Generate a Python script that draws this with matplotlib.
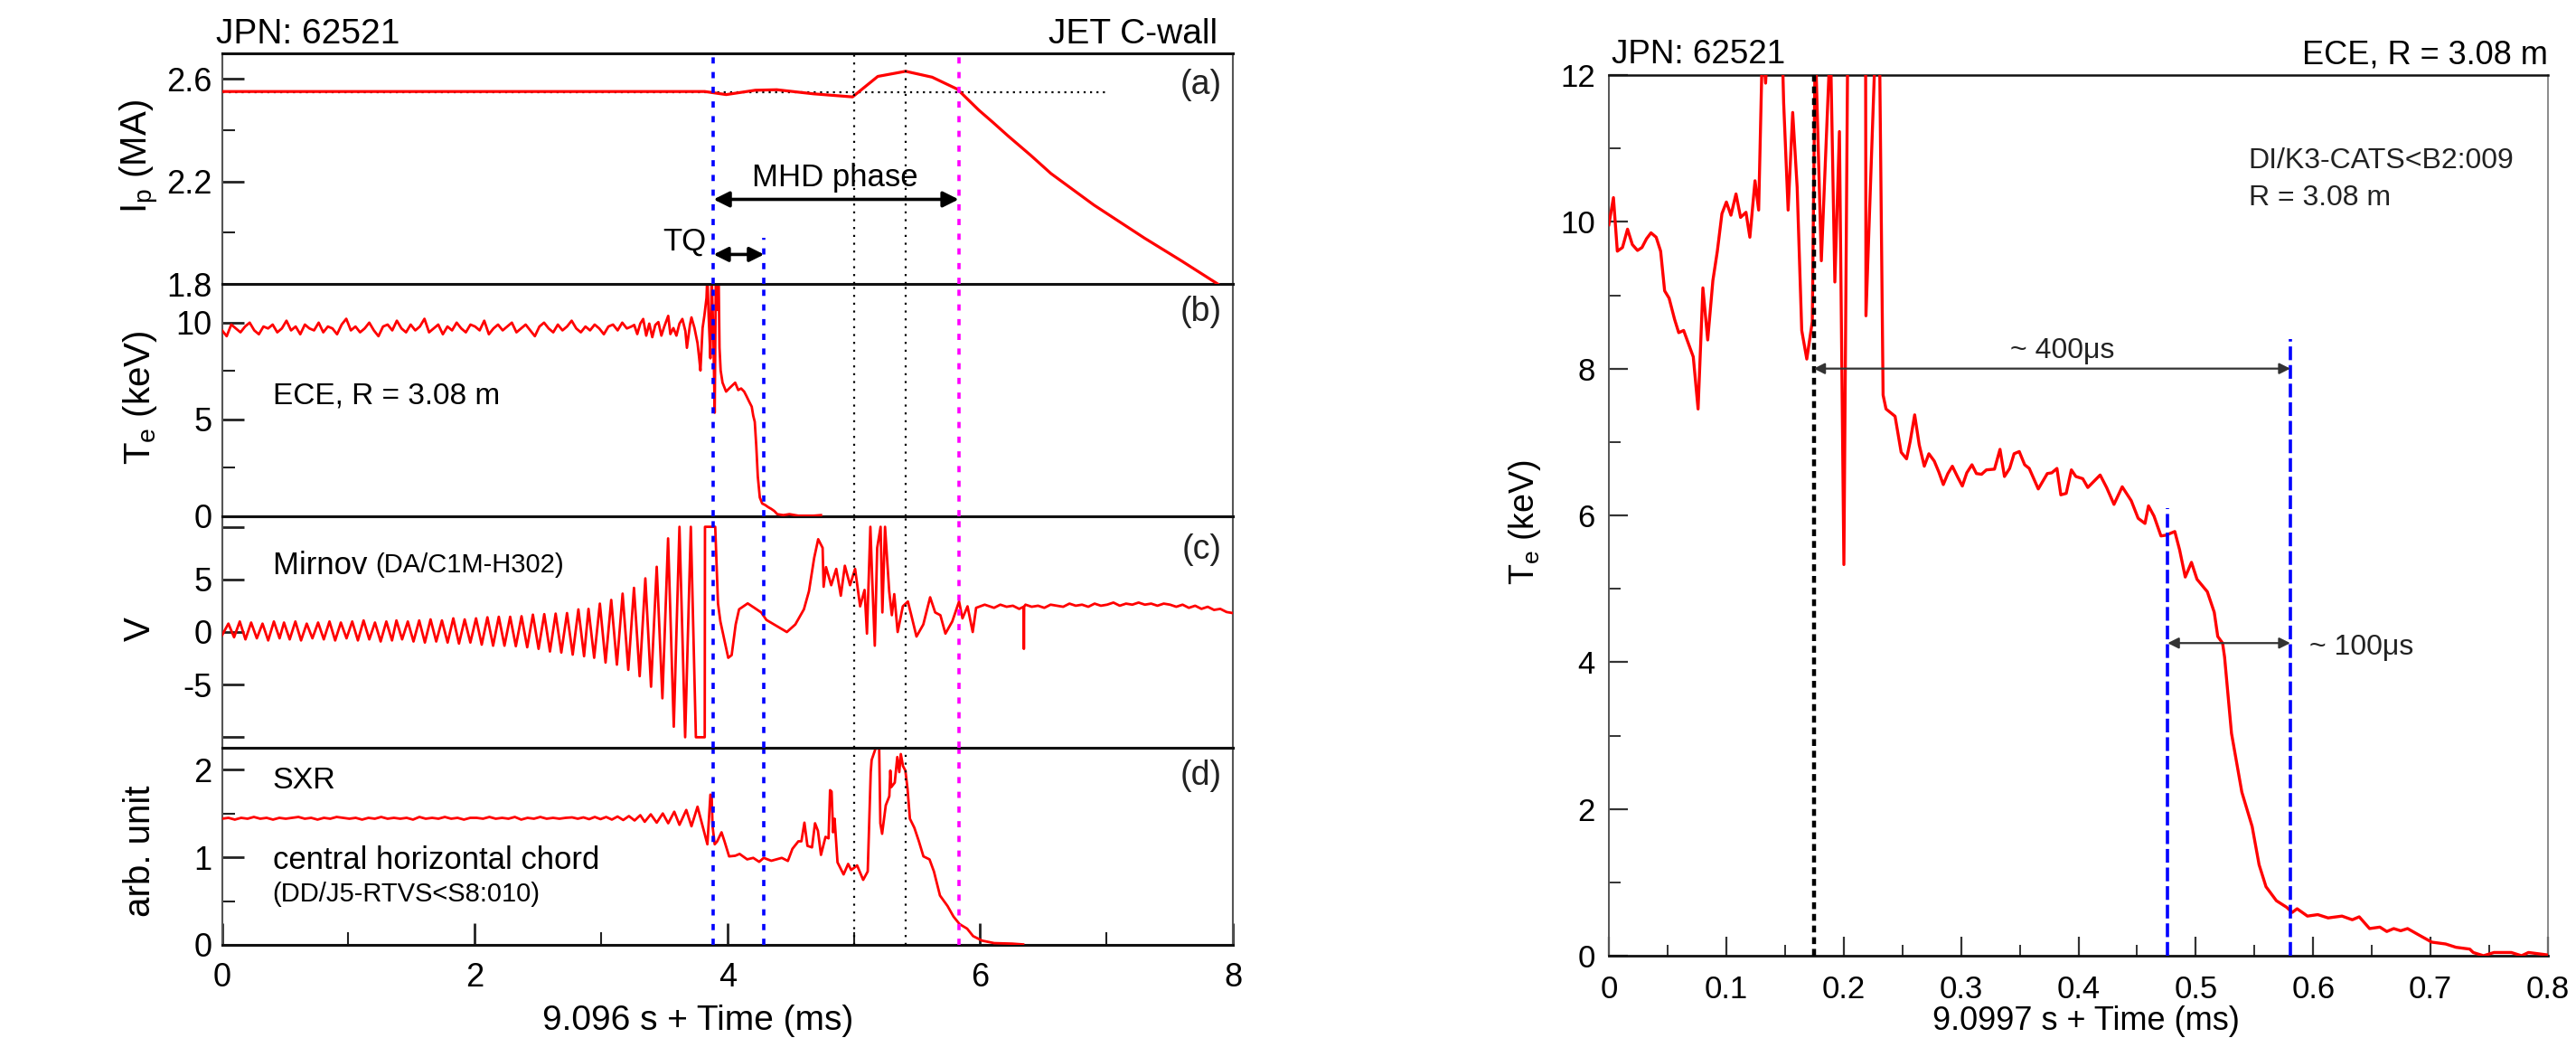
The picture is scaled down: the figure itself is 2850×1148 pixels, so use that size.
import numpy as np
import matplotlib
matplotlib.use('Agg')
import matplotlib.pyplot as plt
from matplotlib.ticker import FixedLocator

plt.rcParams['font.family'] = ['Liberation Sans', 'DejaVu Sans']
plt.rcParams['mathtext.default'] = 'regular'

# ---------------- data: left panel (a) plasma current ----------------
ip_t = [0, 3.82, 3.99, 4.22, 4.39, 4.68, 4.99, 5.19, 5.41, 5.62, 5.82, 5.99, 6.10,
        6.22, 6.40, 6.56, 6.90, 7.30, 7.59, 7.87, 8.0]
ip_v = [2.551, 2.551, 2.539, 2.556, 2.558, 2.542, 2.530, 2.610, 2.630, 2.607, 2.560,
        2.478, 2.431, 2.378, 2.302, 2.231, 2.108, 1.979, 1.891, 1.803, 1.76]
ip_ref_level = 2.55
ip_ref_end = 7.0

# ---------------- data: left panel (b) ECE Te ----------------
te_base_v = [9.6, 9.3, 9.9, 9.7, 9.5, 9.8, 10.0, 9.6, 9.4, 9.8, 9.7, 9.9, 9.5, 9.7, 10.1,
             9.6, 9.8, 9.4, 9.9, 9.7, 9.6, 10.0, 9.5, 9.8, 9.7, 9.4, 9.9, 10.2, 9.6, 9.8,
             9.5, 9.7, 10.0, 9.6, 9.3, 9.8, 9.9, 9.6, 10.1, 9.7, 9.5, 9.9, 9.6, 9.8, 10.2,
             9.5, 9.7, 9.9, 9.4, 9.8, 9.6, 10.0, 9.7, 9.5, 9.9, 9.8, 9.6, 10.1, 9.4, 9.7,
             9.9, 9.6, 9.8, 10.0, 9.5, 9.7, 9.9, 9.6, 9.3, 9.8, 10.0, 9.7, 9.5, 9.9, 9.6,
             9.8, 10.1, 9.7, 9.5, 9.8, 9.6, 9.9, 9.7, 9.4, 9.8, 9.9, 9.6, 10.0, 9.7, 9.8]
te_base_span = (0.0, 3.24)
te_t = [3.262, 3.286, 3.31, 3.333, 3.357, 3.381, 3.405, 3.429, 3.453, 3.477, 3.5, 3.531,
        3.548, 3.572, 3.596, 3.62, 3.643, 3.667, 3.679, 3.703, 3.715, 3.739, 3.763, 3.775,
        3.786, 3.803, 3.817, 3.834, 3.841, 3.851, 3.865, 3.875, 3.889, 3.899, 3.908, 3.918,
        3.93, 3.937, 3.946, 3.961, 3.989, 4.013, 4.037, 4.061, 4.085, 4.108, 4.132, 4.151,
        4.168, 4.192, 4.204, 4.216, 4.228, 4.24, 4.256, 4.275, 4.299, 4.323, 4.347, 4.371,
        4.394, 4.442, 4.49, 4.561, 4.681, 4.74]
te_v = [9.88, 9.41, 9.95, 10.19, 9.33, 9.95, 9.25, 9.88, 10.03, 9.33, 9.8, 10.35,
        9.41, 9.72, 9.33, 9.95, 10.19, 9.56, 8.7, 9.88, 10.27, 9.72, 8.94, 8.24,
        7.53, 9.72, 10.35, 11.28, 12.5, 10.35, 8.16, 12.5, 9.1, 5.35, 12.5, 10.66,
        12.5, 8.7, 7.53, 6.9, 6.44, 6.6, 6.75, 6.9, 6.52, 6.6, 6.44, 6.2,
        5.97, 5.66, 5.19, 4.88, 3.63, 2.06, 0.97, 0.66, 0.58, 0.47, 0.38, 0.27,
        0.11, 0.06, 0.11, 0.03, 0.03, 0.06]

# ---------------- data: left panel (c) Mirnov ----------------
mir_peak_t = [0.05, 0.14, 0.23, 0.32, 0.41, 0.49, 0.58, 0.67, 0.76, 0.85, 0.94, 1.03,
              1.12, 1.21, 1.30, 1.38, 1.47, 1.56, 1.65, 1.74, 1.83, 1.92, 2.01, 2.10,
              2.19, 2.28, 2.37, 2.46, 2.55, 2.64, 2.73, 2.82, 2.90, 2.99, 3.08, 3.17,
              3.26, 3.35, 3.44, 3.53, 3.62, 3.71]
mir_peak_v = [0.8, 1.0, 0.9, 0.8, 1.0, 0.9, 1.0, 0.8, 0.9, 1.0, 0.9, 1.0, 1.1, 0.9, 1.0,
              1.1, 1.0, 1.1, 1.2, 1.1, 1.3, 1.2, 1.3, 1.4, 1.45, 1.45, 1.5, 1.65, 1.7,
              1.75, 1.8, 2.15, 2.2, 2.7, 3.05, 3.65, 4.2, 5.1, 6.2, 8.9, 10, 10]
mir_trough_t = [0.0, 0.095, 0.185, 0.275, 0.365, 0.455, 0.535, 0.625, 0.715, 0.805, 0.895,
                0.985, 1.075, 1.165, 1.255, 1.345, 1.425, 1.515, 1.605, 1.695, 1.785,
                1.875, 1.965, 2.055, 2.145, 2.235, 2.325, 2.415, 2.505, 2.595, 2.685,
                2.775, 2.865, 2.945, 3.035, 3.125, 3.215, 3.305, 3.395, 3.485, 3.575,
                3.665, 3.75, 3.82]
mir_trough_v = [-0.3, -0.5, -0.7, -0.6, -0.8, -0.6, -0.7, -0.8, -0.6, -0.7, -0.8, -0.6,
                -0.8, -0.7, -0.9, -0.8, -0.7, -0.9, -1.0, -0.9, -1.0, -1.1, -1.0, -1.2,
                -1.3, -1.3, -1.35, -1.45, -1.6, -1.85, -1.95, -2.15, -2.3, -2.45, -2.9,
                -3.1, -3.6, -4.2, -5.2, -6.3, -9.0, -10, -10, -10]
mir_post_t = [3.822, 3.903, 3.925, 3.944, 3.97, 4.006, 4.033, 4.065, 4.092, 4.16, 4.213,
              4.267, 4.308, 4.389, 4.47, 4.537, 4.605, 4.645, 4.686, 4.718, 4.753, 4.761,
              4.78, 4.821, 4.861, 4.897, 4.929, 4.97, 5.01, 5.05, 5.085, 5.104, 5.131,
              5.145, 5.166, 5.185, 5.212, 5.226, 5.247, 5.28, 5.301, 5.32, 5.347, 5.388,
              5.428, 5.455, 5.496, 5.55, 5.604, 5.644, 5.685, 5.725, 5.779, 5.833, 5.86,
              5.9, 5.941, 5.968, 6.036, 6.344, 6.346, 6.348]
mir_post_v = [10, 10, 2.72, 1.0, -0.43, -2.45, -2.2, 0.72, 2.16, 2.72, 2.3,
              1.86, 1.15, 0.57, 0.0, 0.72, 2.16, 3.88, 7.03, 8.82, 8.0, 4.3,
              6.17, 4.45, 6.0, 3.45, 6.3, 4.45, 6.0, 2.44, 4.0, -0.15, 10,
              5.2, -1.3, 8.0, 10, 1.86, 10, 3.88, 1.6, 3.6, 0.0, 2.44,
              2.9, 1.6, -0.43, 0.72, 3.3, 1.86, 1.6, -0.15, 1.0, 2.9, 1.3,
              2.44, 0.0, 2.3, 2.6, 2.4, -1.6, 2.4]
mir_tail_v = [2.5, 2.3, 2.6, 2.4, 2.5, 2.2, 2.6, 2.4, 2.5, 2.3, 2.6, 2.5, 2.4, 2.7, 2.5,
              2.6, 2.4, 2.7, 2.5, 2.6, 2.8, 2.5, 2.7, 2.6, 2.8, 2.6, 2.7, 2.5, 2.7, 2.6,
              2.4, 2.6, 2.3, 2.5, 2.2, 2.4, 2.1, 2.2, 1.9, 1.8]
mir_tail_span = (6.06, 8.0)

# ---------------- data: left panel (d) SXR ----------------
sxr_base_v = [1.44, 1.45, 1.43, 1.45, 1.44, 1.46, 1.44, 1.45, 1.43, 1.45, 1.44, 1.45,
              1.46, 1.44, 1.45, 1.43, 1.45, 1.44, 1.46, 1.45, 1.44, 1.45, 1.43, 1.45,
              1.44, 1.46, 1.44, 1.45, 1.44, 1.45, 1.43, 1.46, 1.44, 1.45, 1.44, 1.46,
              1.44, 1.45, 1.43, 1.45, 1.45, 1.44, 1.46, 1.44, 1.45, 1.44, 1.46, 1.43,
              1.45, 1.44, 1.46, 1.44, 1.45, 1.44, 1.45]
sxr_base_span = (0.0, 2.72)
sxr_t = [2.77, 2.815, 2.86, 2.905, 2.95, 2.995, 3.04, 3.085, 3.13, 3.175, 3.22, 3.265,
         3.31, 3.345, 3.393, 3.44, 3.488, 3.531, 3.579, 3.62, 3.674, 3.715, 3.763, 3.81,
         3.841, 3.865, 3.875, 3.882, 3.899, 3.918, 3.953, 3.977, 4.013, 4.061, 4.096,
         4.156, 4.204, 4.251, 4.287, 4.347, 4.43, 4.478, 4.514, 4.561, 4.585, 4.609,
         4.633, 4.669, 4.693, 4.716, 4.74, 4.776, 4.8, 4.812, 4.824, 4.836, 4.848, 4.871,
         4.919, 4.955, 4.979, 5.003, 5.026, 5.074, 5.11, 5.134, 5.141, 5.186, 5.2, 5.21,
         5.224, 5.253, 5.281, 5.289, 5.296, 5.324, 5.344, 5.36, 5.372, 5.389, 5.408,
         5.425, 5.444, 5.479, 5.515, 5.551, 5.599, 5.634, 5.682, 5.742, 5.789, 5.837,
         5.897, 5.944, 6.016, 6.111, 6.254, 6.34]
sxr_v = [1.455, 1.44, 1.455, 1.435, 1.46, 1.435, 1.46, 1.43, 1.465, 1.425, 1.47, 1.42,
         1.48, 1.405, 1.49, 1.395, 1.50, 1.388, 1.52, 1.37, 1.54, 1.354, 1.577, 1.32,
         1.148, 1.715, 1.70, 1.354, 1.148, 1.18, 1.285, 1.18, 1.01, 1.017, 1.038,
         0.976, 0.993, 0.948, 0.993, 0.96, 0.993, 0.958, 1.096, 1.182, 1.182, 1.395,
         1.13, 1.113, 1.388, 1.302, 1.027, 1.233, 1.216, 1.766, 1.75, 1.285, 1.44, 0.942,
         0.804, 0.924, 0.855, 0.88, 0.907, 0.742, 0.838, 1.972, 2.11, 2.3, 2.3, 1.388,
         1.268, 1.594, 1.697, 1.99, 1.8, 1.852, 2.144, 1.972, 2.178, 2.041, 1.99,
         1.783, 1.44, 1.337, 1.182, 1.01, 0.976, 0.838, 0.563, 0.443, 0.323, 0.237,
         0.185, 0.1, 0.048, 0.02, 0.014, 0.005]

# ---------------- event times (left) ----------------
t_blue = [3.89, 4.29]
t_dotted = [5.0, 5.41]
t_magenta = 5.83

# ---------------- data: right panel (zoomed ECE Te) ----------------
rt_t = [0, 0.0039, 0.0072, 0.0116, 0.0159, 0.020, 0.0244, 0.0282, 0.0321, 0.0359, 0.0403,
        0.0441, 0.0475, 0.0513, 0.056, 0.0595, 0.0637, 0.068, 0.0719, 0.076, 0.0801,
        0.0842, 0.0886, 0.0924, 0.0963, 0.1001, 0.104, 0.1083, 0.1122, 0.1168, 0.1201,
        0.1245, 0.1276, 0.1309, 0.1335, 0.1355, 0.1475, 0.1489, 0.1527, 0.1566, 0.1604,
        0.1643, 0.1686, 0.1733, 0.1758, 0.181, 0.1887, 0.1925, 0.1964, 0.2002, 0.2035,
        0.2187, 0.219, 0.2272, 0.2305, 0.2336, 0.2361, 0.2438, 0.249, 0.2536, 0.2567,
        0.2605, 0.2644, 0.2687, 0.2726, 0.2772, 0.2811, 0.2849, 0.2888, 0.2926, 0.2972,
        0.3011, 0.3049, 0.3093, 0.3131, 0.3175, 0.3216, 0.3285, 0.3332, 0.337, 0.3414,
        0.3452, 0.3496, 0.3542, 0.3581, 0.3658, 0.3735, 0.3773, 0.3817, 0.385, 0.3896,
        0.394, 0.3978, 0.4037, 0.408, 0.4185, 0.424, 0.4303, 0.4373, 0.445, 0.4509,
        0.4567, 0.4597, 0.4644, 0.4703, 0.4745, 0.4821, 0.4862, 0.491, 0.4963, 0.501,
        0.5098, 0.5157, 0.5187, 0.5228, 0.5245, 0.5304, 0.5392, 0.548, 0.5539, 0.5598,
        0.5686, 0.5774, 0.5821, 0.5863, 0.5951, 0.6039, 0.6127, 0.6245, 0.6333, 0.6392,
        0.648, 0.6568, 0.6627, 0.6686, 0.6745, 0.6804, 0.6892, 0.701, 0.7128, 0.7216,
        0.7334, 0.7363, 0.7451, 0.754, 0.7687, 0.7775, 0.7834, 0.8]
rt_v = [9.96, 10.33, 9.6, 9.65, 9.9, 9.69, 9.61, 9.65, 9.77, 9.85, 9.79,
        9.6, 9.06, 8.96, 8.67, 8.49, 8.52, 8.33, 8.16, 7.45, 9.1,
        8.39, 9.2, 9.6, 10.11, 10.27, 10.09, 10.38, 10.06, 10.13, 9.79,
        10.56, 10.16, 12.5, 11.89, 12.5, 12.5, 11.62, 10.16, 11.49, 10.47,
        8.52, 8.13, 8.64, 12.5, 9.47, 12.5, 9.18, 11.23, 5.33, 12.5,
        12.5, 8.72, 12.5, 12.5, 7.64, 7.45, 7.35, 6.86, 6.77, 7.01,
        7.37, 6.96, 6.67, 6.84, 6.74, 6.59, 6.42, 6.57, 6.67, 6.52,
        6.4, 6.58, 6.69, 6.57, 6.56, 6.62, 6.63, 6.9, 6.53, 6.64,
        6.84, 6.87, 6.69, 6.64, 6.36, 6.57, 6.58, 6.64, 6.28, 6.3,
        6.62, 6.53, 6.5, 6.38, 6.55, 6.38, 6.15, 6.39, 6.2, 5.96,
        5.89, 6.13, 5.99, 5.72, 5.73, 5.78, 5.53, 5.16, 5.36, 5.13,
        4.96, 4.68, 4.35, 4.26, 4.07, 3.03, 2.23, 1.76, 1.24, 0.94,
        0.75, 0.66, 0.59, 0.64, 0.54, 0.56, 0.515, 0.54, 0.49, 0.53,
        0.37, 0.39, 0.33, 0.37, 0.34, 0.37, 0.29, 0.185, 0.16, 0.115,
        0.09, 0.044, 0.0, 0.044, 0.044, 0.0, 0.044, 0.01]
r_black_t = 0.1745
r_blue_t = [0.476, 0.5805]
r_blue_top = [6.1, 8.4]
r_arrow400 = (0.1745, 0.5805, 8.0)
r_arrow100 = (0.476, 0.5805, 4.26)

# ======================================================================
RED = '#ff0000'
fig = plt.figure(figsize=(28.5, 11.48), dpi=100)
L, Rr = 245.7 / 2850, 1364 / 2850
W = Rr - L
edges_px = [1045, 827, 571, 314, 59]
edges = [1 - e / 1148 for e in edges_px]
ax_d = fig.add_axes([L, edges[0], W, edges[1] - edges[0]])
ax_c = fig.add_axes([L, edges[1], W, edges[2] - edges[1]], sharex=ax_d)
ax_b = fig.add_axes([L, edges[2], W, edges[3] - edges[2]], sharex=ax_d)
ax_a = fig.add_axes([L, edges[3], W, edges[4] - edges[3]], sharex=ax_d)
left_axes = [ax_a, ax_b, ax_c, ax_d]

for ax in left_axes:
    for s in ['top', 'bottom']:
        ax.spines[s].set_color('#111111')
        ax.spines[s].set_linewidth(2.2)
    for s in ['left', 'right']:
        ax.spines[s].set_color('#555555')
        ax.spines[s].set_linewidth(1.5)
    ax.tick_params(axis='y', which='major', direction='in', length=17, width=2,
                   labelsize=26, pad=8, right=False, colors='#222222')
    ax.tick_params(axis='y', which='minor', direction='in', length=10, width=1.5,
                   right=False, colors='#222222')
    ax.tick_params(axis='y', labelcolor='black')
    ax.tick_params(axis='x', which='both', bottom=False, top=False, labelbottom=False)

ax_d.set_xlim(0, 8)
ax_d.xaxis.set_major_locator(FixedLocator([0, 2, 4, 6, 8]))
ax_d.xaxis.set_minor_locator(FixedLocator([1, 3, 5, 7]))
ax_d.tick_params(axis='x', which='major', bottom=True, labelbottom=True, direction='in',
                 length=17, width=2, labelsize=26, pad=14, colors='#222222',
                 labelcolor='black')
ax_d.tick_params(axis='x', which='minor', bottom=True, direction='in', length=10,
                 width=1.5, colors='#222222')

# (a)
ax_a.set_ylim(1.8, 2.7)
ax_a.yaxis.set_major_locator(FixedLocator([1.8, 2.2, 2.6]))
ax_a.yaxis.set_minor_locator(FixedLocator([2.0, 2.4]))
ax_a.set_yticklabels(['1.8', '2.2', '2.6'])
ax_a.plot([0, ip_ref_end], [ip_ref_level, ip_ref_level], color='black', lw=1.6,
          ls=(0, (1, 2.2)))
ax_a.plot(ip_t, ip_v, color=RED, lw=2.3, zorder=5)

# (b)
ax_b.set_ylim(0, 12)
ax_b.yaxis.set_major_locator(FixedLocator([0, 5, 10]))
ax_b.yaxis.set_minor_locator(FixedLocator([2.5, 7.5]))
tb = np.linspace(te_base_span[0], te_base_span[1], len(te_base_v))
ax_b.plot(np.concatenate([tb, te_t]), np.concatenate([te_base_v, te_v]),
          color=RED, lw=2.0, zorder=5)

# (c)
ax_c.set_ylim(-11, 11)
ax_c.yaxis.set_major_locator(FixedLocator([-10, -5, 0, 5, 10]))
ax_c.set_yticklabels(['', '-5', '0', '5', ''])
mt = np.concatenate([mir_peak_t, mir_trough_t, mir_post_t,
                     np.linspace(mir_tail_span[0], mir_tail_span[1], len(mir_tail_v))])
mv = np.concatenate([mir_peak_v, mir_trough_v, mir_post_v, mir_tail_v])
order = np.argsort(mt, kind='stable')
ax_c.plot(mt[order], mv[order], color=RED, lw=2.0, zorder=5)

# (d)
ax_d.set_ylim(0, 2.25)
ax_d.yaxis.set_major_locator(FixedLocator([0, 1, 2]))
ax_d.yaxis.set_minor_locator(FixedLocator([0.5, 1.5]))
ts = np.linspace(sxr_base_span[0], sxr_base_span[1], len(sxr_base_v))
ax_d.plot(np.concatenate([ts, sxr_t]), np.concatenate([sxr_base_v, sxr_v]),
          color=RED, lw=2.0, zorder=5)

# event lines
blue_ls = (0, (1.9, 2.6))
dot_ls = (0, (1, 2.9))
for ax in left_axes:
    ax.axvline(t_blue[0], color='#0000ff', lw=2.6, ls=blue_ls, zorder=6)
    if ax is ax_a:
        ax.vlines(t_blue[1], 1.8, 1.98, color='#0000ff', lw=2.6, ls=blue_ls, zorder=6)
    else:
        ax.axvline(t_blue[1], color='#0000ff', lw=2.6, ls=blue_ls, zorder=6)
    for tt in t_dotted:
        ax.axvline(tt, color='black', lw=1.6, ls=dot_ls, zorder=6)
    ax.axvline(t_magenta, color='#ff00ff', lw=2.6, ls=blue_ls, zorder=6)

# annotations left
ax_a.annotate('', xy=(t_magenta, 2.13), xytext=(t_blue[0], 2.13),
              arrowprops=dict(arrowstyle='<|-|>', color='black', lw=2.6,
                              mutation_scale=26, shrinkA=0, shrinkB=0), zorder=7)
ax_a.text(4.85, 2.155, 'MHD phase', ha='center', va='bottom', fontsize=25)
ax_a.annotate('', xy=(t_blue[1], 1.915), xytext=(t_blue[0], 1.915),
              arrowprops=dict(arrowstyle='<|-|>', color='black', lw=2.6,
                              mutation_scale=24, shrinkA=0, shrinkB=0), zorder=7)
ax_a.text(3.83, 1.965, 'TQ', ha='right', va='center', fontsize=25)
ax_a.text(-0.006, 1.012, 'JPN: 62521', transform=ax_a.transAxes, ha='left', va='bottom',
          fontsize=28)
ax_a.text(0.985, 1.012, 'JET C-wall', transform=ax_a.transAxes, ha='right', va='bottom',
          fontsize=28)

panel_lbl = [(ax_a, '(a)', 0.935), (ax_b, '(b)', 0.95), (ax_c, '(c)', 0.925),
             (ax_d, '(d)', 0.94)]
for ax, s, yy in panel_lbl:
    ax.text(0.989, yy, s, transform=ax.transAxes, ha='right', va='top', fontsize=27,
            color='#222222')

ax_b.text(0.40, 6.2, 'ECE, R = 3.08 m', ha='left', va='center', fontsize=24)
t1 = ax_c.text(0.40, 6.3, 'Mirnov ', ha='left', va='center', fontsize=25)
ax_c.annotate('(DA/C1M-H302)', xy=(1, 0.1), xycoords=t1, ha='left', va='bottom',
              fontsize=21)
ax_d.text(0.40, 1.87, 'SXR', ha='left', va='center', fontsize=24.5)
ax_d.text(0.40, 0.96, 'central horizontal chord', ha='left', va='center', fontsize=25)
ax_d.text(0.40, 0.58, '(DD/J5-RTVS<S8:010)', ha='left', va='center', fontsize=21)

# y labels left
ylab = [('I$_p$ (MA)', 173), ('T$_e$ (keV)', 440), ('V', 696), ('arb. unit', 941)]
for s, yc in ylab:
    fig.text(155 / 2850, 1 - yc / 1148, s, rotation=90, ha='center', va='center',
             fontsize=29)
fig.text(772 / 2850, 0.001, '9.096 s + Time (ms)', ha='center', va='bottom',
         fontsize=28)

# ======================================================================
# right panel
axr = fig.add_axes([1780 / 2850, 1 - 1057 / 1148, 1039 / 2850, 974 / 1148])
axr.set_xlim(0, 0.8)
axr.set_ylim(0, 12)
axr.xaxis.set_major_locator(FixedLocator([0, 0.1, 0.2, 0.3, 0.4, 0.5, 0.6, 0.7, 0.8]))
axr.xaxis.set_minor_locator(FixedLocator([0.05, 0.15, 0.25, 0.35, 0.45, 0.55, 0.65, 0.75]))
axr.set_xticklabels(['0', '0.1', '0.2', '0.3', '0.4', '0.5', '0.6', '0.7', '0.8'])
axr.yaxis.set_major_locator(FixedLocator([0, 2, 4, 6, 8, 10, 12]))
axr.yaxis.set_minor_locator(FixedLocator([1, 3, 5, 7, 9, 11]))
axr.tick_params(which='major', direction='in', length=15, width=1.6, labelsize=25,
                colors='#333333', labelcolor='black')
axr.tick_params(axis='x', which='major', pad=15)
axr.tick_params(axis='y', which='major', pad=11)
axr.tick_params(which='minor', direction='in', length=9, width=1.4, colors='#333333')
axr.spines['top'].set_color('#111111')
axr.spines['top'].set_linewidth(1.8)
axr.spines['bottom'].set_color('#111111')
axr.spines['bottom'].set_linewidth(2.0)
axr.spines['left'].set_color('#555555')
axr.spines['left'].set_linewidth(1.4)
axr.spines['right'].set_color('#777777')
axr.spines['right'].set_linewidth(1.2)

axr.plot(rt_t, rt_v, color=RED, lw=2.4, zorder=5)
axr.vlines(r_black_t, 0, 12, color='black', lw=3.2, ls=(0, (1.7, 1.2)), zorder=6)
for tt, top in zip(r_blue_t, r_blue_top):
    axr.vlines(tt, 0, top, color='#0000ff', lw=2.6, ls=(0, (4.2, 1.5)), zorder=6)

axr.annotate('', xy=(r_arrow400[1], r_arrow400[2]), xytext=(r_arrow400[0], r_arrow400[2]),
             arrowprops=dict(arrowstyle='<|-|>', color='#333333', lw=1.6,
                             mutation_scale=18, shrinkA=0, shrinkB=0), zorder=7)
axr.text(0.386, 8.24, '~ 400μs', ha='center', va='center', fontsize=23, color='#222222')
axr.annotate('', xy=(r_arrow100[1], r_arrow100[2]), xytext=(r_arrow100[0], r_arrow100[2]),
             arrowprops=dict(arrowstyle='<|-|>', color='#333333', lw=1.6,
                             mutation_scale=18, shrinkA=0, shrinkB=0), zorder=7)
axr.text(0.597, 4.2, '~ 100μs', ha='left', va='center', fontsize=23, color='#222222')
axr.text(0.545, 10.83, 'DI/K3-CATS<B2:009', ha='left', va='center', fontsize=23,
         color='#222222')
axr.text(0.545, 10.33, 'R = 3.08 m', ha='left', va='center', fontsize=23, color='#222222')
axr.text(0.003, 1.005, 'JPN: 62521', transform=axr.transAxes, ha='left', va='bottom',
         fontsize=26.5)
axr.text(1.0, 1.005, 'ECE, R = 3.08 m', transform=axr.transAxes, ha='right', va='bottom',
         fontsize=26)
fig.text(1687 / 2850, 1 - 578 / 1148, 'T$_e$ (keV)', rotation=90, ha='center',
         va='center', fontsize=27)
fig.text(2308 / 2850, 0.001, '9.0997 s + Time (ms)', ha='center', va='bottom',
         fontsize=26)

fig.savefig('out.png', dpi=100)
